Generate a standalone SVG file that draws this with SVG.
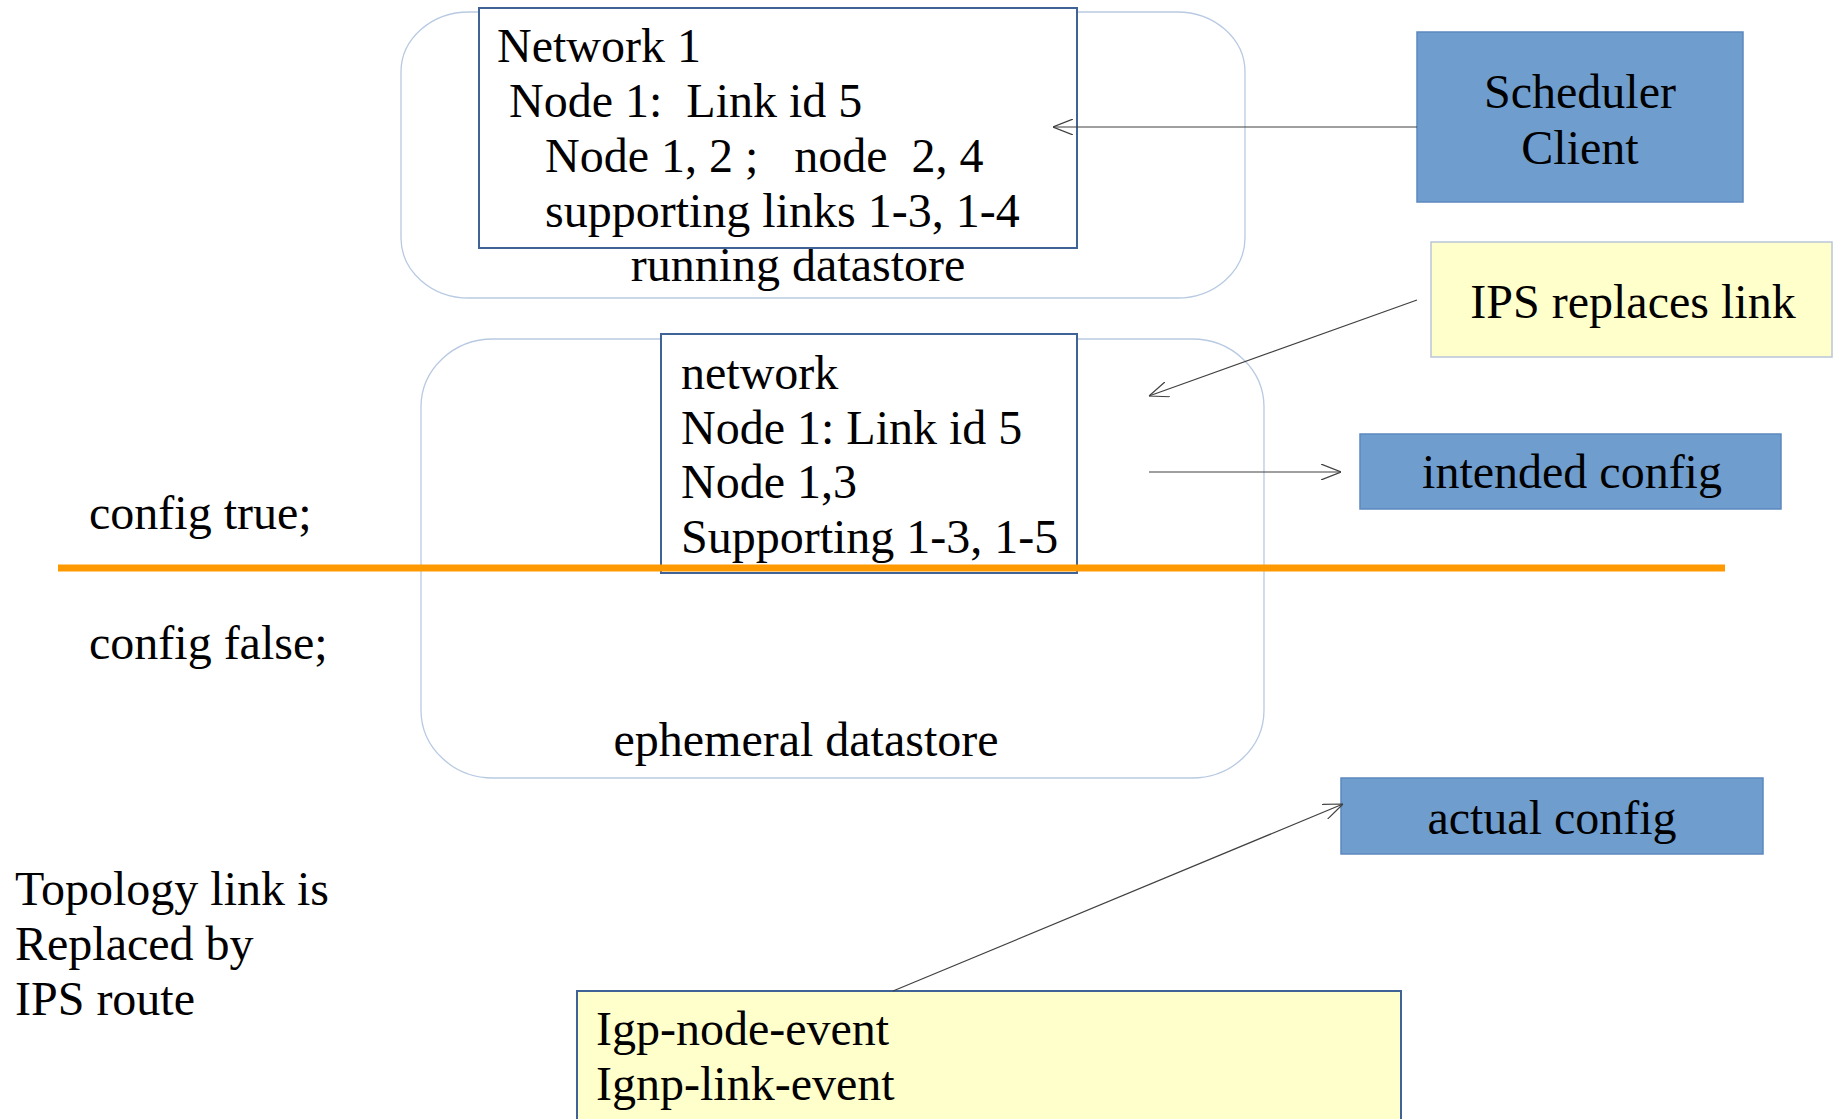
<svg xmlns="http://www.w3.org/2000/svg" width="1835" height="1119" viewBox="0 0 1835 1119">
<defs>
<style>
text{font-family:"Liberation Serif","Times New Roman",serif;font-size:48px;fill:#000}
.ds{fill:#fff;stroke:#B8CAE2;stroke-width:1.3}
.box{fill:#fff;stroke:#3F6397;stroke-width:2}
.blue{fill:#6F9DCE;stroke:#5C89BE;stroke-width:1.5}
.yellow{fill:#FFFFCC;stroke:#B9C5D9;stroke-width:1.5}
.yellowd{fill:#FFFFCC;stroke:#3F6397;stroke-width:2}
.conn{stroke:#404040;stroke-width:1.2;fill:none;marker-end:url(#arr)}
.mid{text-anchor:middle}
</style>
<marker id="arr" viewBox="0 0 20 16" refX="20" refY="8" markerWidth="20" markerHeight="16" markerUnits="userSpaceOnUse" orient="auto">
<path d="M0,0 L20,8 L0,16" fill="none" stroke="#404040" stroke-width="1.2"/>
</marker>
</defs>
<rect width="1835" height="1119" fill="#fff"/>

<g id="running-datastore">
<rect class="ds" x="401" y="12" width="844" height="286" rx="68" ry="60"/>
<text class="mid" x="798" y="281">running datastore</text>
</g>
<g id="ephemeral-datastore">
<rect class="ds" x="421" y="339" width="843" height="439" rx="72" ry="68"/>
<text class="mid" x="806" y="756">ephemeral datastore</text>
</g>

<g id="network1">
<rect class="box" x="479" y="8" width="598" height="240"/>
<text x="497" y="62">Network 1</text>
<text x="509" y="117" xml:space="preserve">Node 1:  Link id 5</text>
<text x="545" y="172" xml:space="preserve">Node 1, 2 ;   node  2, 4</text>
<text x="545" y="227">supporting links 1-3, 1-4</text>
</g>

<g id="network2">
<rect class="box" x="661" y="334" width="416" height="239"/>
<text x="681" y="389">network</text>
<text x="681" y="444">Node 1: Link id 5</text>
<text x="681" y="498">Node 1,3</text>
<text x="681" y="553">Supporting 1-3, 1-5</text>
</g>

<g id="divider">
<line x1="58" y1="568" x2="1725" y2="568" stroke="#FF9900" stroke-width="7"/>
</g>

<g id="scheduler-client">
<rect class="blue" x="1417" y="32" width="326" height="170"/>
<text class="mid" x="1580" y="108">Scheduler</text>
<text class="mid" x="1580" y="164">Client</text>
</g>

<g id="ips-replaces-link">
<rect class="yellow" x="1431" y="242" width="401" height="115"/>
<text class="mid" x="1633" y="318">IPS replaces link</text>
</g>

<g id="intended-config">
<rect class="blue" x="1360" y="434" width="421" height="75"/>
<text class="mid" x="1572" y="488">intended config</text>
</g>

<g id="actual-config">
<rect class="blue" x="1341" y="778" width="422" height="76"/>
<text class="mid" x="1552" y="834">actual config</text>
</g>

<g id="igp-events">
<rect class="yellowd" x="577" y="991" width="824" height="140"/>
<text x="596" y="1045">Igp-node-event</text>
<text x="596" y="1100">Ignp-link-event</text>
</g>

<g id="labels">
<text x="89" y="529">config true;</text>
<text x="89" y="659">config false;</text>
<text x="15" y="905">Topology link is</text>
<text x="15" y="960">Replaced by</text>
<text x="15" y="1015">IPS route</text>
</g>

<g id="connectors">
<line class="conn" x1="1417" y1="127" x2="1053" y2="127"/>
<line class="conn" x1="1417" y1="300" x2="1149" y2="396"/>
<line class="conn" x1="1149" y1="472" x2="1341" y2="472"/>
<line class="conn" x1="893" y1="991" x2="1343" y2="804"/>
</g>
</svg>
